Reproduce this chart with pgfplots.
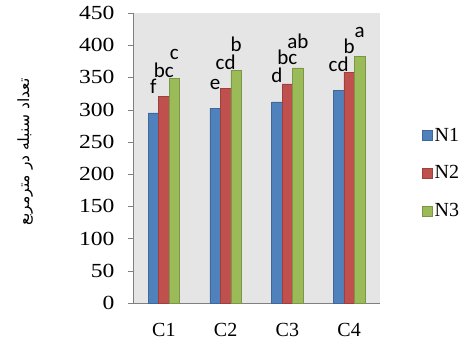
\documentclass[border=0pt]{standalone}
\usepackage{fontspec}
\setmainfont{Liberation Serif}
\newfontfamily\lblfont{Carlito}
\newfontfamily\tickfont[FakeStretch=1.18]{Liberation Serif}
\newfontfamily\arabicfont[Script=Arabic]{DejaVu Sans}
\TeXXeTstate=1
\usepackage{pgfplots}
\usepackage{pgfplotstable}
\pgfplotsset{compat=1.18}
\definecolor{cN1}{HTML}{4F81BD}
\definecolor{cN2}{HTML}{C0504D}
\definecolor{cN3}{HTML}{9BBB59}
\pgfplotstableread{
x y lbl
0 295 f
1 302 e
2 312 d
3 330 cd
}\tN
\pgfplotstableread{
x y lbl
0 321 bc
1 333 cd
2 340 bc
3 358 b
}\tNN
\pgfplotstableread{
x y lbl
0 349 c
1 361 b
2 365 ab
3 383 a
}\tNNN
\begin{document}
\begin{tikzpicture}
\begin{axis}[
  at={(133pt,42pt)}, anchor=south west,
  scale only axis, width=247pt, height=290pt,
  ybar=0pt, bar width=10.5pt,
  xmin=-0.5, xmax=3.5, ymin=0, ymax=450,
  xtick={0,1,2,3}, xticklabels={C1,C2,C3,C4},
  ytick={0,50,...,450},
  axis background/.style={fill=black!10},
  axis x line=bottom, axis y line=left,
  axis line style={-, draw=black!50},
  tick align=outside, major tick length=5pt,
  ytick style={draw=black!50}, xtick style={draw=none},
  /pgf/number format/assume math mode=true,
  tick label style={font=\fontsize{20}{22}\selectfont},
  yticklabel style={xshift=-10pt, font=\tickfont\fontsize{20}{22}\selectfont},
  xticklabel style={yshift=-12pt},
  ylabel={\arabicfont\beginR تعداد سنبله در مترمربع\endR},
  ylabel style={at={(axis description cs:-0.437,0.52)}, anchor=center, rotate=0, font=\fontsize{15.5}{18}\selectfont},
  nodes near coords, point meta=explicit symbolic,
  every node near coord/.append style={font=\lblfont\fontsize{21}{21}\selectfont, anchor=base, yshift=19pt, inner sep=0pt},
  legend style={draw=none, fill=none, at={(axis description cs:1.17,0.448)}, anchor=west, inner sep=0pt,
    font=\fontsize{20}{22}\selectfont, row sep=19pt},
  legend cell align=left,
  legend image code/.code={\draw[#1] (0pt,-5pt) rectangle (10pt,5pt);},
]
\addplot[fill=cN1, draw=cN1!80!black] table[x=x,y=y,meta=lbl]{\tN};
\addplot[fill=cN2, draw=cN2!80!black] table[x=x,y=y,meta=lbl]{\tNN};
\addplot[fill=cN3, draw=cN3!80!black] table[x=x,y=y,meta=lbl]{\tNNN};
\legend{N1,N2,N3}
\end{axis}
\pgfresetboundingbox
\path[use as bounding box] (0,0) rectangle (468pt,345pt);
\end{tikzpicture}
\end{document}
